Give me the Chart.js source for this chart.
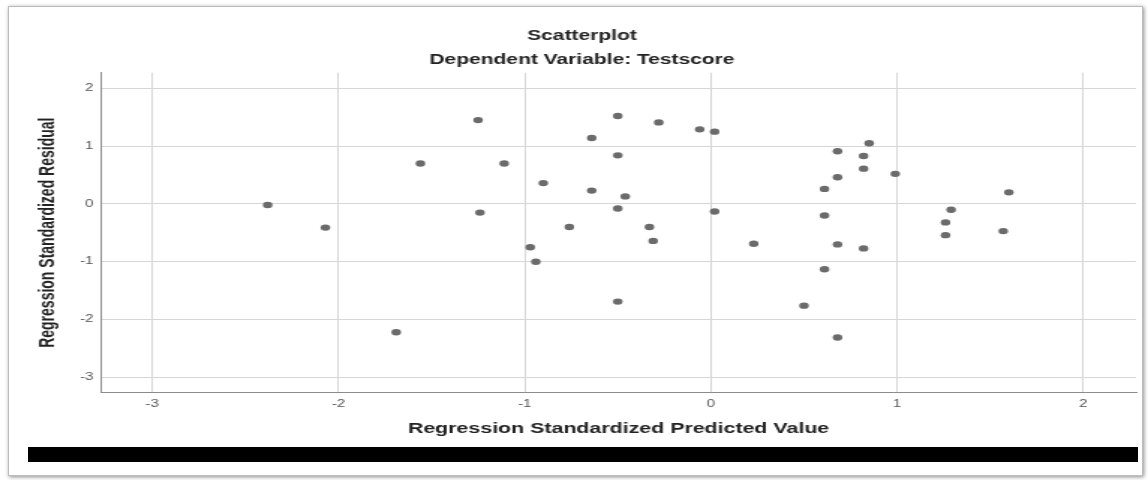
<!DOCTYPE html>
<html>
<head>
<meta charset="utf-8">
<script src="https://cdn.jsdelivr.net/npm/chart.js@4.4.1/dist/chart.umd.min.js"></script>
<style>
    html, body { margin: 0; padding: 0; background: #fff; }
    #wrap { position: relative; width: 1148px; height: 480px; overflow: hidden; }
    #frame {
        position: absolute; left: 8px; top: 6px; width: 1133px; height: 468px;
        border: 1px solid #bdbdbd; box-shadow: 1px 1px 4px rgba(0,0,0,0.45);
    }
    #plot { position: absolute; left: 0; top: 0; }
    #bar { position: absolute; left: 28px; top: 447px; width: 1110px; height: 15px; background: #000; }
</style>
</head>
<body>
<div id="wrap">
    <div id="frame"></div>
    <!-- the original screenshot is stretched sideways, so the chart is drawn narrow and scaled up -->
    <canvas id="plot" width="766" height="480" style="width:1148px;height:480px"></canvas>
    <div id="bar"></div>
</div>
<script>
    const predicted = [
        -2.38, -2.07, -1.69, -1.25, -0.50, -0.28, -0.06, 0.02, -0.64, -0.50,
        -1.56, -1.11, -0.90, -0.64, -0.46, -0.50, -1.24, 0.02, -0.76, -0.33,
        -0.31, -0.97, 0.23, -0.94, -0.50, 0.85, 0.68, 0.82, 0.82, 0.99,
        0.68, 0.61, 1.60, 1.29, 0.61, 1.26, 1.26, 1.57, 0.68, 0.82,
        0.61, 0.50, 0.68
    ];
    const residual = [
        -0.02, -0.41, -2.22, 1.45, 1.52, 1.41, 1.29, 1.25, 1.14, 0.84,
        0.70, 0.70, 0.36, 0.23, 0.13, -0.08, -0.15, -0.13, -0.40, -0.40,
        -0.64, -0.75, -0.69, -1.00, -1.69, 1.05, 0.91, 0.83, 0.61, 0.52,
        0.46, 0.26, 0.20, -0.10, -0.20, -0.32, -0.54, -0.47, -0.70, -0.77,
        -1.13, -1.76, -2.31
    ];
    const xTicks = [-3, -2, -1, 0, 1, 2];
    const yTicks = [-3, -2, -1, 0, 1, 2];

    const points = predicted.map((x, i) => ({ x: x, y: residual[i] }));
    const textColor = '#222';
    const fontFamily = "'Liberation Sans', Arial, sans-serif";

    new Chart(document.getElementById('plot'), {
        type: 'scatter',
        data: {
            datasets: [{
                label: 'Residuals',
                data: points,
                pointRadius: 3.2,
                pointBackgroundColor: '#6b6b6b',
                pointBorderWidth: 0
            }]
        },
        options: {
            responsive: false,
            animation: false,
            // left padding pushes the titles a bit right, like in the original
            layout: { padding: { left: 18.6, right: 8, top: 0, bottom: 0 } },
            plugins: {
                legend: { display: false },
                tooltip: { enabled: false },
                title: {
                    display: true,
                    text: 'Scatterplot',
                    color: textColor,
                    font: { family: fontFamily, size: 14, weight: 'bold' },
                    padding: { top: 28.1, bottom: 3 }
                },
                subtitle: {
                    display: true,
                    text: 'Dependent Variable: Testscore',
                    color: textColor,
                    font: { family: fontFamily, size: 14, weight: 'bold' },
                    padding: { top: 4.2, bottom: 3.8 }
                }
            },
            scales: {
                x: {
                    type: 'linear',
                    min: -3.275,
                    max: 2.283,
                    afterBuildTicks: scale => { scale.ticks = xTicks.map(v => ({ value: v })); },
                    afterFit: scale => { scale.height = 87.3; },
                    grid: { color: '#d6d6d6', drawTicks: false },
                    border: { color: '#8c8c8c' },
                    ticks: {
                        color: '#555',
                        padding: 6,
                        font: { family: fontFamily, size: 10 }
                    },
                    title: {
                        display: true,
                        text: 'Regression Standardized Predicted Value',
                        color: textColor,
                        font: { family: fontFamily, size: 14.25, weight: 'bold' },
                        padding: { top: 0, bottom: 42.4 }
                    }
                },
                y: {
                    type: 'linear',
                    min: -3.266,
                    max: 2.27,
                    afterBuildTicks: scale => { scale.ticks = yTicks.map(v => ({ value: v })); },
                    afterFit: scale => { scale.width = 48.8; },
                    grid: { color: '#d6d6d6', drawTicks: false },
                    border: { color: '#8c8c8c' },
                    ticks: {
                        color: '#555',
                        padding: 5,
                        font: { family: fontFamily, size: 10 }
                    },
                    title: {
                        display: true,
                        text: 'Regression Standardized Residual',
                        color: textColor,
                        font: { family: fontFamily, size: 14, weight: 'bold' },
                        padding: { top: 4.7, bottom: 0 }
                    }
                }
            }
        }
    });
</script>
</body>
</html>
